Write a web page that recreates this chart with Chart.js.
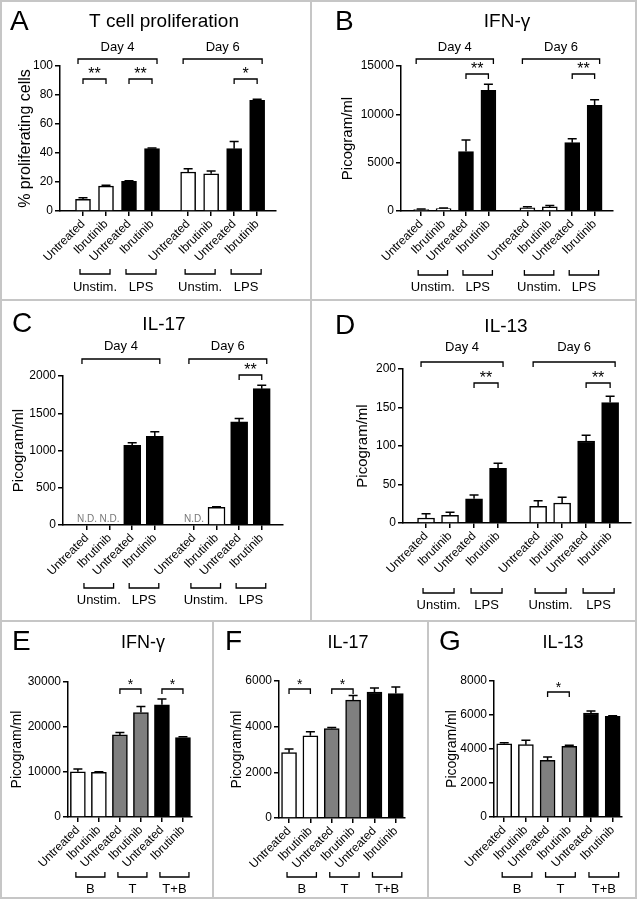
<!DOCTYPE html>
<html>
<head>
<meta charset="utf-8">
<script src="https://cdn.jsdelivr.net/npm/chart.js@4.4.1/dist/chart.umd.min.js"></script>
<style>
  body { margin: 0; background: #fff; }
  #fig { position: relative; width: 638px; height: 901px; background: #fff; }
  #fig canvas { position: absolute; }
  .sep { position: absolute; background: #c6c6c6; }
</style>
</head>
<body>
<div id="fig"></div>
<script>
// tick labels / groups
const treatLabels = ['Untreated', 'Ibrutinib', 'Untreated', 'Ibrutinib', 'Untreated', 'Ibrutinib', 'Untreated', 'Ibrutinib'];
const treatLabels6 = ['Untreated', 'Ibrutinib', 'Untreated', 'Ibrutinib', 'Untreated', 'Ibrutinib'];
const dayGroups = [[0, 3, 'Day 4'], [4, 7, 'Day 6']];
const stimGroups = [[0, 1, 'Unstim.'], [2, 3, 'LPS'], [4, 5, 'Unstim.'], [6, 7, 'LPS']];
const cellGroups = [[0, 1, 'B'], [2, 3, 'T'], [4, 5, 'T+B']];

// A - T cell proliferation (%)
const prolifMean = [8, 17.2, 20.5, 43, 26.9, 25.7, 43, 76.3];
const prolifSem = [1.1, 0.5, 0.4, 0.4, 2.3, 1.9, 5, 0.7];
const sigA = [[0, 1, '**'], [2, 3, '**'], [6, 7, '*']];

// B - IFN-g (pg/ml)
const ifnMean = [150, 250, 6150, 12480, 330, 420, 7070, 10930];
const ifnSem = [60, 60, 1200, 620, 120, 140, 400, 580];
const sigB = [[2, 3, '**'], [6, 7, '**']];

// C - IL-17 (pg/ml), null = N.D.
const il17Mean = [null, null, 1070, 1190, null, 237, 1384, 1830];
const il17Sem = [0, 0, 33, 62, 0, 8, 45, 45];
const sigC = [[6, 7, '**']];

// D - IL-13 (pg/ml)
const il13Mean = [6.5, 10, 31.5, 71, 21.5, 26, 106.5, 156.5];
const il13Sem = [5.5, 4, 5, 6.5, 7.5, 7.5, 7.3, 8.2];
const sigD = [[2, 3, '**'], [6, 7, '**']];

// E-G - co-culture (pg/ml)
const ifnCoMean = [10050, 9900, 18240, 23220, 24940, 17640];
const ifnCoSem = [600, 150, 520, 1340, 1260, 220];
const sigE = [[2, 3, '*'], [4, 5, '*']];

const il17CoMean = [2860, 3600, 3920, 5160, 5520, 5450];
const il17CoSem = [160, 175, 45, 200, 175, 290];
const sigF = [[0, 1, '*'], [2, 3, '*']];

const il13CoMean = [4310, 4255, 3333, 4157, 6118, 5922];
const il13CoSem = [60, 255, 195, 60, 117, 40];
const sigG = [[2, 3, '*']];

const stimColors = ['#fff', '#fff', '#000', '#000', '#fff', '#fff', '#000', '#000'];
const cellColors = ['#fff', '#fff', '#7f7f7f', '#7f7f7f', '#000', '#000'];

const FONT = '"Liberation Sans", Arial, sans-serif';
const fig = document.getElementById('fig');

function bracket(ctx, x1, x2, y, dir) {
    ctx.beginPath();
    ctx.moveTo(x1, y + 5 * dir);
    ctx.lineTo(x1, y);
    ctx.lineTo(x2, y);
    ctx.lineTo(x2, y + 5 * dir);
    ctx.stroke();
}

function makePanel(cfg) {
    const canvas = document.createElement('canvas');
    canvas.width = cfg.w;
    canvas.height = cfg.h;
    canvas.style.left = cfg.x + 'px';
    canvas.style.top = cfg.y + 'px';
    canvas.style.width = cfg.w + 'px';
    canvas.style.height = cfg.h + 'px';
    fig.appendChild(canvas);

    const xPos = cfg.values.map((v, i) => cfg.first + i + (i >= 4 && cfg.values.length === 8 ? cfg.gap - 1 : 0));
    const data = cfg.values.map((v, i) => ({ x: xPos[i], y: v }));

    const deco = {
        id: 'deco',
        afterDatasetsDraw(chart) {
            const ctx = chart.ctx, xs = chart.scales.x, ys = chart.scales.y;
            ctx.save();
            ctx.strokeStyle = '#000';
            ctx.lineWidth = 1.5;
            cfg.values.forEach((v, i) => {
                if (v == null) return;
                const x = xs.getPixelForValue(xPos[i]);
                const y1 = ys.getPixelForValue(v);
                const y2 = ys.getPixelForValue(v + cfg.errors[i]);
                ctx.beginPath();
                ctx.moveTo(x, y1);
                ctx.lineTo(x, y2);
                ctx.moveTo(x - 4.5, y2);
                ctx.lineTo(x + 4.5, y2);
                ctx.stroke();
            });
            ctx.restore();
        },
        afterDraw(chart) {
            const ctx = chart.ctx, xs = chart.scales.x, ys = chart.scales.y;
            const px = i => xs.getPixelForValue(xPos[i]);
            ctx.save();
            ctx.fillStyle = '#000';
            ctx.strokeStyle = '#000';
            ctx.lineWidth = 1.3;
            ctx.textBaseline = 'middle';

            ctx.textAlign = 'left';
            ctx.font = '28px ' + FONT;
            ctx.fillText(cfg.letter, cfg.letterX, cfg.letterY);

            ctx.textAlign = 'center';
            ctx.font = cfg.titleSize + 'px ' + FONT;
            ctx.fillText(cfg.title, cfg.titleX, cfg.titleY);

            ctx.font = '13px ' + FONT;
            (cfg.days || []).forEach(([a, b, t]) => {
                const x1 = px(a) - 5, x2 = px(b) + 5;
                bracket(ctx, x1, x2, cfg.dayY, 1);
                ctx.fillText(t, (x1 + x2) / 2, cfg.dayTextY);
            });

            cfg.groups.forEach(([a, b, t]) => {
                const x1 = px(a) - cfg.gL, x2 = px(b) + cfg.gR;
                bracket(ctx, x1, x2, cfg.grpY, -1);
                ctx.fillText(t, (x1 + x2) / 2, cfg.grpTextY);
            });

            ctx.textBaseline = 'alphabetic';
            ctx.font = cfg.starSize + 'px ' + FONT;
            cfg.sig.forEach(([a, b, t]) => {
                const x1 = px(a), x2 = px(b);
                bracket(ctx, x1, x2, cfg.sigY, 1);
                ctx.fillText(t, (x1 + x2) / 2, cfg.sigY);
            });

            ctx.fillStyle = '#777';
            ctx.font = '10px ' + FONT;
            cfg.values.forEach((v, i) => {
                if (v == null) ctx.fillText('N.D.', px(i), ys.getPixelForValue(0) - 3);
            });
            ctx.restore();
        }
    };

    const line = { color: '#000', width: 1.5 };
    new Chart(canvas, {
        type: 'bar',
        data: {
            datasets: [{
                data: data,
                backgroundColor: cfg.colors,
                borderColor: '#000',
                borderWidth: 1.5,
                borderSkipped: 'start',
                barThickness: cfg.barW
            }]
        },
        options: {
            responsive: false,
            animation: false,
            devicePixelRatio: 1,
            layout: { padding: { left: cfg.padL, top: cfg.top, right: cfg.w - cfg.right, bottom: 0 } },
            plugins: { legend: { display: false }, tooltip: { enabled: false } },
            scales: {
                x: {
                    type: 'linear',
                    min: 0,
                    max: cfg.xMax,
                    offset: false,
                    afterBuildTicks: ax => { ax.ticks = xPos.map(v => ({ value: v })); },
                    afterFit: ax => { ax.height = cfg.h - cfg.bottom; },
                    ticks: {
                        callback: (v, i) => cfg.labels[i],
                        minRotation: 45,
                        maxRotation: 45,
                        autoSkip: false,
                        padding: 1,
                        color: '#000',
                        font: { family: FONT, size: 12 }
                    },
                    grid: { offset: false, drawOnChartArea: false, tickLength: 5, color: '#000', lineWidth: 1.5 },
                    border: line
                },
                y: {
                    min: 0,
                    max: cfg.yMax,
                    afterFit: ax => { ax.width = cfg.left - cfg.padL; },
                    ticks: {
                        stepSize: cfg.yStep,
                        callback: v => String(v),
                        padding: 2,
                        color: '#000',
                        font: { family: FONT, size: 12 }
                    },
                    grid: { drawOnChartArea: false, tickLength: 5, color: '#000', lineWidth: 1.5 },
                    border: line,
                    title: {
                        display: true,
                        text: cfg.yTitle,
                        padding: 0,
                        color: '#000',
                        font: { family: FONT, size: cfg.yTitleSize }
                    }
                }
            }
        },
        plugins: [deco]
    });
}

const top8 = { labels: treatLabels, colors: stimColors, days: dayGroups, groups: stimGroups, gL: 3, gR: 4, titleSize: 19, starSize: 16 };
const bottom6 = { labels: treatLabels6, colors: cellColors, groups: cellGroups, gL: 2, gR: 6, titleSize: 18, starSize: 14,
    first: 0.47, gap: 1, xMax: 5.9, barW: 15, yTitle: 'Picogram/ml', yTitleSize: 14, grpY: 255, grpTextY: 267 };

makePanel({ ...top8, x: 0, y: 0, w: 311, h: 300, left: 60, right: 276, top: 66, bottom: 211, padL: 16,
    yMax: 100, yStep: 20, yTitle: '% proliferating cells', yTitleSize: 16, first: 1, gap: 1.57, xMax: 9.39, barW: 15,
    letter: 'A', letterX: 10, letterY: 22, title: 'T cell proliferation', titleX: 164, titleY: 22,
    dayY: 59, dayTextY: 47, sigY: 79, grpY: 274, grpTextY: 287,
    values: prolifMean, errors: prolifSem, sig: sigA });

makePanel({ ...top8, x: 311, y: 0, w: 326, h: 300, left: 90, right: 302, top: 66, bottom: 211, padL: 28,
    yMax: 15000, yStep: 5000, yTitle: 'Picogram/ml', yTitleSize: 15, first: 0.9, gap: 1.74, xMax: 9.46, barW: 15,
    letter: 'B', letterX: 24, letterY: 22, title: 'IFN-γ', titleX: 196, titleY: 22,
    dayY: 59, dayTextY: 47, sigY: 74, grpY: 275, grpTextY: 287,
    values: ifnMean, errors: ifnSem, sig: sigB });

makePanel({ ...top8, x: 0, y: 300, w: 311, h: 322, left: 63, right: 283, top: 76, bottom: 225, padL: 10,
    yMax: 2000, yStep: 500, yTitle: 'Picogram/ml', yTitleSize: 15, first: 1.06, gap: 1.73, xMax: 9.73, barW: 17,
    letter: 'C', letterX: 12, letterY: 24, title: 'IL-17', titleX: 164, titleY: 25,
    dayY: 59, dayTextY: 46, sigY: 75, grpY: 288, grpTextY: 300,
    values: il17Mean, errors: il17Sem, sig: sigC });

makePanel({ ...top8, x: 311, y: 300, w: 326, h: 322, left: 92, right: 320, top: 69, bottom: 223, padL: 43,
    yMax: 200, yStep: 50, yTitle: 'Picogram/ml', yTitleSize: 15, first: 0.96, gap: 1.67, xMax: 9.5, barW: 17,
    letter: 'D', letterX: 24, letterY: 26, title: 'IL-13', titleX: 195, titleY: 27,
    dayY: 62, dayTextY: 47, sigY: 83, grpY: 293, grpTextY: 305,
    values: il13Mean, errors: il13Sem, sig: sigD });

makePanel({ ...bottom6, x: 0, y: 622, w: 213, h: 277, left: 68, right: 192, top: 60, bottom: 195, padL: 8.6,
    yMax: 30000, yStep: 10000, letter: 'E', letterX: 12, letterY: 20, title: 'IFN-γ', titleX: 143, titleY: 21,
    sigY: 67, values: ifnCoMean, errors: ifnCoSem, sig: sigE });

makePanel({ ...bottom6, x: 213, y: 622, w: 215, h: 277, left: 66, right: 192, top: 59, bottom: 196, padL: 15.6,
    yMax: 6000, yStep: 2000, letter: 'F', letterX: 12, letterY: 20, title: 'IL-17', titleX: 135, titleY: 21,
    sigY: 67, values: il17CoMean, errors: il17CoSem, sig: sigF });

makePanel({ ...bottom6, x: 428, y: 622, w: 209, h: 277, left: 66, right: 194, top: 59, bottom: 195, padL: 15.6,
    yMax: 8000, yStep: 2000, letter: 'G', letterX: 11, letterY: 20, title: 'IL-13', titleX: 135, titleY: 21,
    sigY: 70, values: il13CoMean, errors: il13CoSem, sig: sigG });

// panel frame lines
[
    [0, 0, 637, 2], [0, 897, 637, 2], [0, 0, 2, 899], [635, 0, 2, 899],
    [0, 299, 637, 2], [0, 620, 637, 2], [310, 0, 2, 621],
    [212, 621, 2, 278], [427, 621, 2, 278]
].forEach(([l, t, w, h]) => {
    const d = document.createElement('div');
    d.className = 'sep';
    d.style.cssText = `left:${l}px;top:${t}px;width:${w}px;height:${h}px;`;
    fig.appendChild(d);
});
</script>
</body>
</html>
